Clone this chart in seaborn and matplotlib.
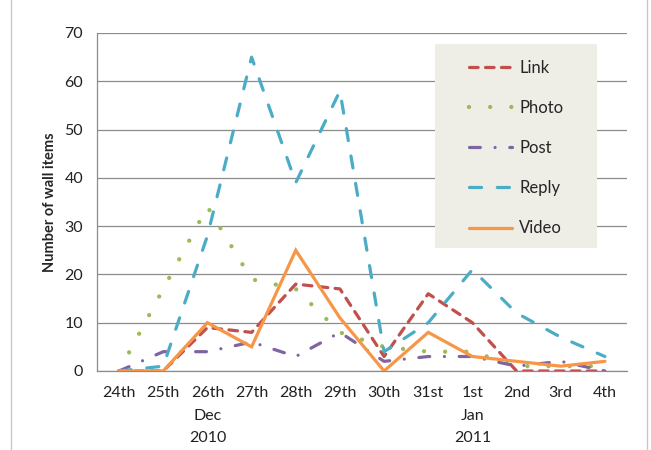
import matplotlib
matplotlib.use("Agg")
import matplotlib.pyplot as plt
import seaborn as sns
import pandas as pd
from matplotlib.patches import Rectangle
from matplotlib.lines import Line2D

days = ["24th", "25th", "26th\nDec\n2010", "27th", "28th", "29th", "30th",
        "31st", "1st\nJan\n2011", "2nd", "3rd", "4th"]
link = [0, 0, 9, 8, 18, 17, 3, 16, 10, 0, 0, 0]
photo = [0, 17, 34, 19, 17, 8, 5, 4, 4, 1, 1, 1]
post = [0, 4, 4, 6, 3, 8, 2, 3, 3, 1, 2, 0]
reply = [0, 1, 28, 65, 39, 58, 4, 10, 21, 12, 7, 3]
video = [0, 0, 10, 5, 25, 11, 0, 8, 3, 2, 1, 2]
series_names = ["Link", "Photo", "Post", "Reply", "Video"]
y_ticks = [0, 10, 20, 30, 40, 50, 60, 70]

rows = []
for name, vals in zip(series_names, [link, photo, post, reply, video]):
    for i, v in enumerate(vals):
        rows.append({"pos": i, "type": name, "count": v})
df = pd.DataFrame(rows)

sns.set_style("white")
plt.rcParams["font.family"] = ["Lato", "DejaVu Sans"]

fig = plt.figure(figsize=(6.51, 4.5), dpi=100)
ax = fig.add_axes([97 / 651, 1 - 371 / 450, (627 - 97) / 651, (371 - 33) / 450])

palette = {"Link": "#c0504d", "Photo": "#9bbb59", "Post": "#8064a2",
           "Reply": "#4bacc6", "Video": "#f79646"}
dashes = {"Link": (2.7, 2.3), "Photo": (0.01, 6.7), "Post": (3.4, 4.6, 0.01, 4.6),
          "Reply": (3.8, 4.9), "Video": ""}
sns.lineplot(data=df, x="pos", y="count", hue="type", style="type",
             hue_order=series_names, style_order=series_names,
             palette=palette, dashes=dashes, linewidth=2.3, legend=False,
             ax=ax, dash_capstyle="round", solid_capstyle="round",
             solid_joinstyle="miter", zorder=3)
# bigger round dots for the Photo series
ax.lines[1].set_linewidth(3.1)
ax.lines[1].set_dashes((0.01, 4.9))

ax.set_xlim(-0.5, len(days) - 0.5)
ax.set_ylim(0, 70)
ax.set_yticks(y_ticks)
ax.set_yticklabels([str(t) for t in y_ticks])
ax.set_xticks(range(len(days)))
ax.set_xticklabels(days, linespacing=1.75, va="top")
ax.set_xticks([i - 0.5 for i in range(len(days) + 1)], minor=True)
ax.tick_params(axis="x", which="major", length=0, pad=11, labelsize=11.5, colors="#222222")
ax.tick_params(axis="x", which="minor", length=5, width=0.8, color="#888888", direction="out")
ax.tick_params(axis="y", which="major", length=5, width=0.8, color="#888888",
               direction="out", pad=5, labelsize=11.5, labelcolor="#222222")
ax.yaxis.grid(True, color="#8c8c8c", linewidth=0.9)
ax.set_axisbelow(True)
for s in ["top", "right"]:
    ax.spines[s].set_visible(False)
for s in ["left", "bottom"]:
    ax.spines[s].set_color("#8c8c8c")
    ax.spines[s].set_linewidth(0.9)
ax.set_xlabel("")
ax.set_ylabel("Number of wall items", fontsize=10.5, fontweight="bold", labelpad=5)

# legend box
rect = Rectangle((435 / 651, 1 - 248 / 450), (597 - 435) / 651, (248 - 44) / 450,
                 transform=fig.transFigure, facecolor="#eeede6", edgecolor="none",
                 zorder=4)
fig.patches.append(rect)
handles = ax.lines[:5]
leg = fig.legend(handles, series_names, loc="center",
                 bbox_to_anchor=(516 / 651, 1 - 148 / 450),
                 frameon=False, fontsize=12, handlelength=2.6, handletextpad=0.45,
                 labelspacing=1.45)
leg.set_zorder(5)

# chart-area border lines
fig.add_artist(Line2D([11 / 651, 11 / 651], [0, 1], transform=fig.transFigure,
                      color="#c8c8c8", linewidth=1))
fig.add_artist(Line2D([647 / 651, 647 / 651], [0, 1], transform=fig.transFigure,
                      color="#c8c8c8", linewidth=1))

fig.savefig("out.png", dpi=100)
